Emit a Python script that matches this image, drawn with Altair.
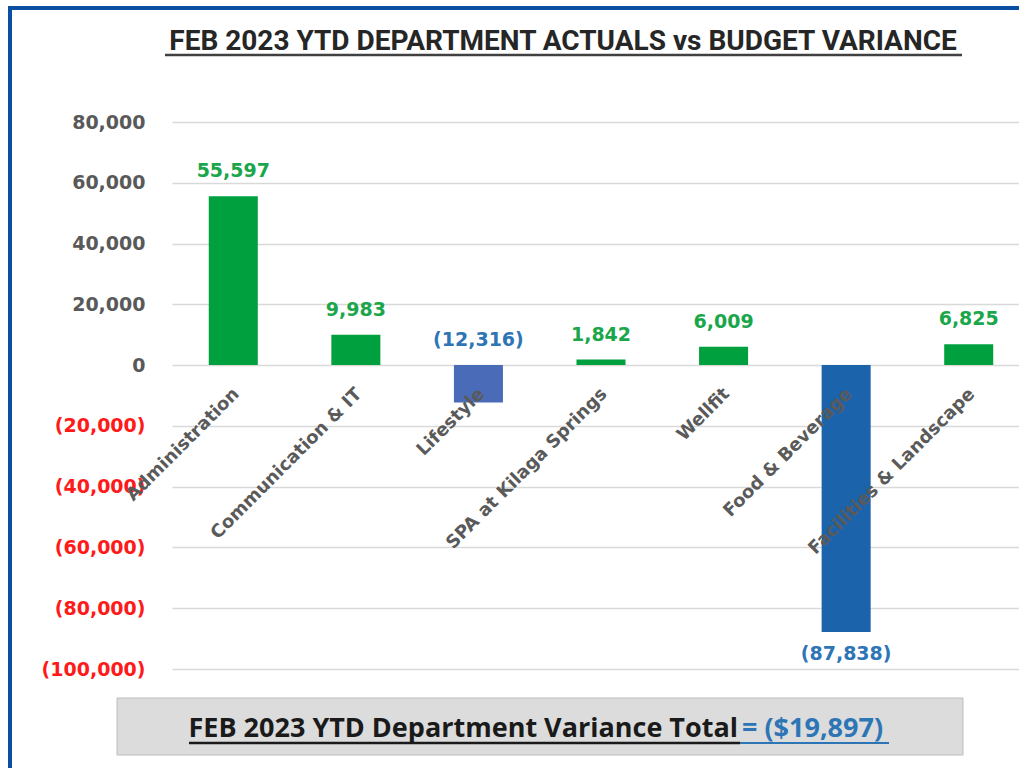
import altair as alt
import pandas as pd

departments = ["Administration", "Communication & IT", "Lifestyle", "SPA at Kilaga Springs",
               "Wellfit", "Food & Beverage", "Facilities & Landscape"]
variance = [55597, 9983, -12316, 1842, 6009, -87838, 6825]
labels_below = ["Food & Beverage"]
y_ticks = [80000, 60000, 40000, 20000, 0, -20000, -40000, -60000, -80000, -100000]

title_text = "FEB 2023 YTD DEPARTMENT ACTUALS vs BUDGET VARIANCE"
total_label = "FEB 2023 YTD Department Variance Total"
total_value = "= ($19,897)"

bar_colors = ["#00A03E", "#00A03E", "#4A6CB8", "#00A03E", "#00A03E", "#1B63AB", "#00A03E"]

def fmt(v):
    return f"({abs(v):,})" if v < 0 else f"{v:,}"

df = pd.DataFrame({
    "dept": departments,
    "value": variance,
    "label": [fmt(v) for v in variance],
    "below": [d in labels_below for d in departments],
})
df["label_anchor"] = [v if b else max(v, 0) for v, b in zip(df["value"], df["below"])]

W, H = 845, 547
x_enc = alt.X("dept:N", sort=departments, axis=None,
              scale=alt.Scale(range=[0, 858], paddingInner=0.6, paddingOuter=0.3))
y_scale = alt.Scale(domain=[-100000, 80000], nice=False, zero=False)

base = alt.Chart(df)

bars = base.mark_bar().encode(
    x=x_enc,
    y=alt.Y("value:Q", scale=y_scale,
            axis=alt.Axis(values=y_ticks, title=None, ticks=False, domain=False,
                          labelPadding=27, labelFont="DejaVu Sans", labelFontSize=19,
                          labelFontWeight="bold",
                          labelExpr="datum.value < 0 ? '(' + format(-datum.value, ',') + ')' : format(datum.value, ',')",
                          labelColor=alt.condition("datum.value < 0", alt.value("#FF1A1A"), alt.value("#595959")),
                          gridColor="#D9D9D9", gridWidth=1.5)),
    y2=alt.datum(0),
    color=alt.Color("dept:N", scale=alt.Scale(domain=departments, range=bar_colors), legend=None),
)

lab_color = alt.condition("datum.value < 0", alt.value("#2E75B6"), alt.value("#1AA64A"))

top_labels = base.transform_filter("!datum.below").mark_text(
    font="DejaVu Sans", fontSize=19, fontWeight="bold", baseline="middle", dy=-25
).encode(x=x_enc, y=alt.Y("label_anchor:Q", scale=y_scale), text="label:N", color=lab_color)

bottom_labels = base.transform_filter("datum.below").mark_text(
    font="DejaVu Sans", fontSize=19, fontWeight="bold", baseline="middle", dy=22
).encode(x=x_enc, y=alt.Y("label_anchor:Q", scale=y_scale), text="label:N", color=lab_color)

cat_labels = base.mark_text(
    font="DejaVu Sans", fontSize=18, fontWeight="bold", angle=315, align="right",
    baseline="top", dx=-16.3, dy=12.0, color="#5A5A5A"
).encode(x=x_enc, y=alt.datum(0), text="dept:N")

# decorations
border = alt.Chart(pd.DataFrame({"k": [0]}))
left_border = border.mark_rule(color="#0B4EA2", strokeWidth=4).encode(
    x=alt.value(-162), y=alt.value(-116), y2=alt.value(H + 110))
top_border = border.mark_rule(color="#0B4EA2", strokeWidth=4).encode(
    x=alt.value(-164), x2=alt.value(W + 10), y=alt.value(-114))

title = border.mark_text(font="Roboto", fontSize=28, fontWeight="bold",
                         color="#262626", align="center", baseline="alphabetic").encode(
    x=alt.value(391), y=alt.value(-72), text=alt.value(title_text))
title_ul = border.mark_rule(color="#404040", strokeWidth=2.5).encode(
    x=alt.value(-7), x2=alt.value(790), y=alt.value(-67))

box = border.mark_rect(fill="#DCDCDC", stroke="#BDBDBD", strokeWidth=1).encode(
    x=alt.value(-55), x2=alt.value(791), y=alt.value(576), y2=alt.value(633))
total_txt = border.mark_text(font="Open Sans", fontSize=27, fontWeight="bold", color="#1A1A1A",
                             align="right", baseline="alphabetic").encode(
    x=alt.value(566), y=alt.value(615), text=alt.value(total_label))
total_val = border.mark_text(font="Open Sans", fontSize=27, fontWeight="bold", color="#2E75B6",
                             align="left", baseline="alphabetic").encode(
    x=alt.value(570), y=alt.value(615), text=alt.value(total_value))
total_ul = border.mark_rule(color="#1A1A1A", strokeWidth=2.5).encode(
    x=alt.value(17), x2=alt.value(568), y=alt.value(621))
total_val_ul = border.mark_rule(color="#2E75B6", strokeWidth=2).encode(
    x=alt.value(568), x2=alt.value(717), y=alt.value(621))

chart = alt.layer(
    bars, top_labels, bottom_labels, cat_labels,
    left_border, top_border, title, title_ul, box, total_txt, total_val, total_ul, total_val_ul
).properties(
    width=W, height=H,
    autosize=alt.AutoSizeParams(type="none"),
    padding={"left": 172, "top": 122, "right": 2, "bottom": 99},
).configure(background="white").configure_view(strokeWidth=0, stroke="transparent")

chart.save("out.html", embed_options={"renderer": "svg", "actions": False})
